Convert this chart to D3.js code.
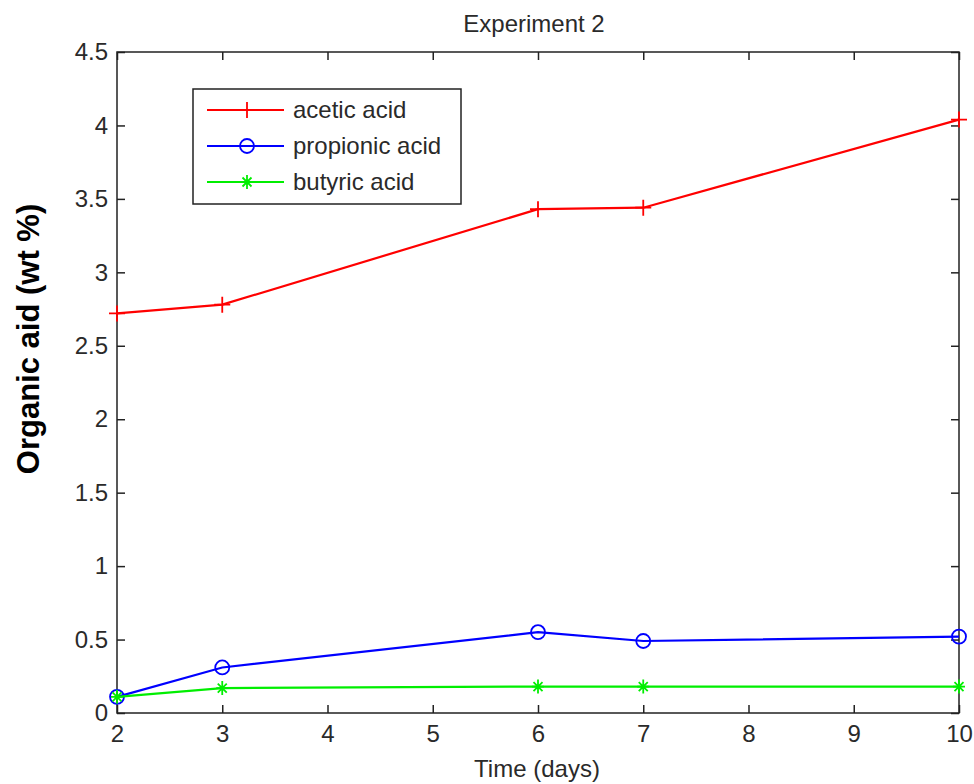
<!DOCTYPE html>
<html>
<head>
<meta charset="utf-8">
<script src="https://cdn.jsdelivr.net/npm/d3@7"></script>
<style>
  body { margin: 0; background: #fff; }
  svg text { font-family: "Liberation Sans", Arial, sans-serif; fill: #2a2a2a; }
  .axis path, .axis line { stroke: #222; stroke-width: 1.5; }
</style>
</head>
<body>
<svg id="chart" width="974" height="784"></svg>
<script>
// data
var days = [2, 3, 6, 7, 10];
var acetic = [2.72, 2.78, 3.43, 3.44, 4.04];
var propionic = [0.11, 0.31, 0.55, 0.49, 0.52];
var butyric = [0.11, 0.17, 0.18, 0.18, 0.18];
var xTicks = [2, 3, 4, 5, 6, 7, 8, 9, 10];
var yTicks = [0, 0.5, 1, 1.5, 2, 2.5, 3, 3.5, 4, 4.5];
var seriesNames = ["acetic acid", "propionic acid", "butyric acid"];

var svg = d3.select("#chart"),
    margin = {top: 52, right: 15, bottom: 71, left: 117},
    width = 974 - margin.left - margin.right,
    height = 784 - margin.top - margin.bottom;

var g = svg.append("g").attr("transform", "translate(" + margin.left + "," + margin.top + ")");

var x = d3.scaleLinear().domain([2, 10]).range([0, width]);
var y = d3.scaleLinear().domain([0, 4.5]).range([height, 0]);

var fmt = function(d) { return d3.format("")(d); };

// bottom axis + top ticks
g.append("g").attr("class", "axis")
  .attr("transform", "translate(0," + height + ")")
  .call(d3.axisBottom(x).tickValues(xTicks).tickSize(-8).tickSizeOuter(0).tickPadding(12).tickFormat(fmt))
  .selectAll("text").style("font-size", "24px");
g.append("g").attr("class", "axis")
  .call(d3.axisTop(x).tickValues(xTicks).tickSize(-8).tickSizeOuter(0).tickFormat(""));

// left axis + right ticks
g.append("g").attr("class", "axis")
  .call(d3.axisLeft(y).tickValues(yTicks).tickSize(-8).tickSizeOuter(0).tickPadding(9).tickFormat(fmt))
  .selectAll("text").style("font-size", "24px");
g.append("g").attr("class", "axis")
  .attr("transform", "translate(" + width + ",0)")
  .call(d3.axisRight(y).tickValues(yTicks).tickSize(-8).tickSizeOuter(0).tickFormat(""));

g.selectAll(".axis .domain").remove();
g.append("rect").attr("width", width).attr("height", height)
  .attr("fill", "none").attr("stroke", "#222").attr("stroke-width", 1.5);

var series = [
  {name: seriesNames[0], values: acetic, color: "#ff0000", marker: "plus"},
  {name: seriesNames[1], values: propionic, color: "#0000ff", marker: "circle"},
  {name: seriesNames[2], values: butyric, color: "#00ee00", marker: "star"}
];

var line = d3.line()
  .x(function(d, i) { return x(days[i]); })
  .y(function(d) { return y(d); });

function drawMarker(sel, type, color) {
  if (type == "plus") {
    sel.append("path").attr("d", "M-8,0H8M0,-8V8")
      .attr("stroke", color).attr("stroke-width", 1.8).attr("fill", "none");
  } else if (type == "circle") {
    sel.append("circle").attr("r", 7)
      .attr("stroke", color).attr("stroke-width", 1.8).attr("fill", "none");
  } else {
    sel.append("path").attr("d", "M-6,0H6M0,-7V7M-4.5,-4.5L4.5,4.5M-4.5,4.5L4.5,-4.5")
      .attr("stroke", color).attr("stroke-width", 1.8).attr("fill", "none");
  }
}

series.forEach(function(s) {
  g.append("path").datum(s.values)
    .attr("d", line).attr("fill", "none")
    .attr("stroke", s.color).attr("stroke-width", 2.2);
  g.append("g").selectAll("g").data(s.values).enter().append("g")
    .attr("transform", function(d, i) { return "translate(" + x(days[i]) + "," + y(d) + ")"; })
    .each(function() { drawMarker(d3.select(this), s.marker, s.color); });
});

// legend
var legend = svg.append("g").attr("transform", "translate(193,89)");
legend.append("rect").attr("width", 268).attr("height", 115)
  .attr("fill", "#fff").attr("stroke", "#222").attr("stroke-width", 1.5);
series.forEach(function(s, i) {
  var row = legend.append("g").attr("transform", "translate(0," + (21 + i * 36) + ")");
  row.append("line").attr("x1", 14).attr("x2", 91).attr("stroke", s.color).attr("stroke-width", 2.2);
  drawMarker(row.append("g").attr("transform", "translate(54,0)"), s.marker, s.color);
  row.append("text").attr("x", 100).attr("dy", "0.35em").style("font-size", "24px").text(s.name);
});

// title and axis labels
svg.append("text").attr("x", 534).attr("y", 32).attr("text-anchor", "middle")
  .style("font-size", "24px").text("Experiment 2");
svg.append("text").attr("x", 537).attr("y", 777).attr("text-anchor", "middle")
  .style("font-size", "24px").text("Time (days)");
svg.append("text")
  .attr("transform", "translate(39,339) rotate(-90)")
  .attr("text-anchor", "middle")
  .style("font-size", "31px").style("font-weight", "bold").style("fill", "#000")
  .text("Organic aid (wt %)");
</script>
</body>
</html>
